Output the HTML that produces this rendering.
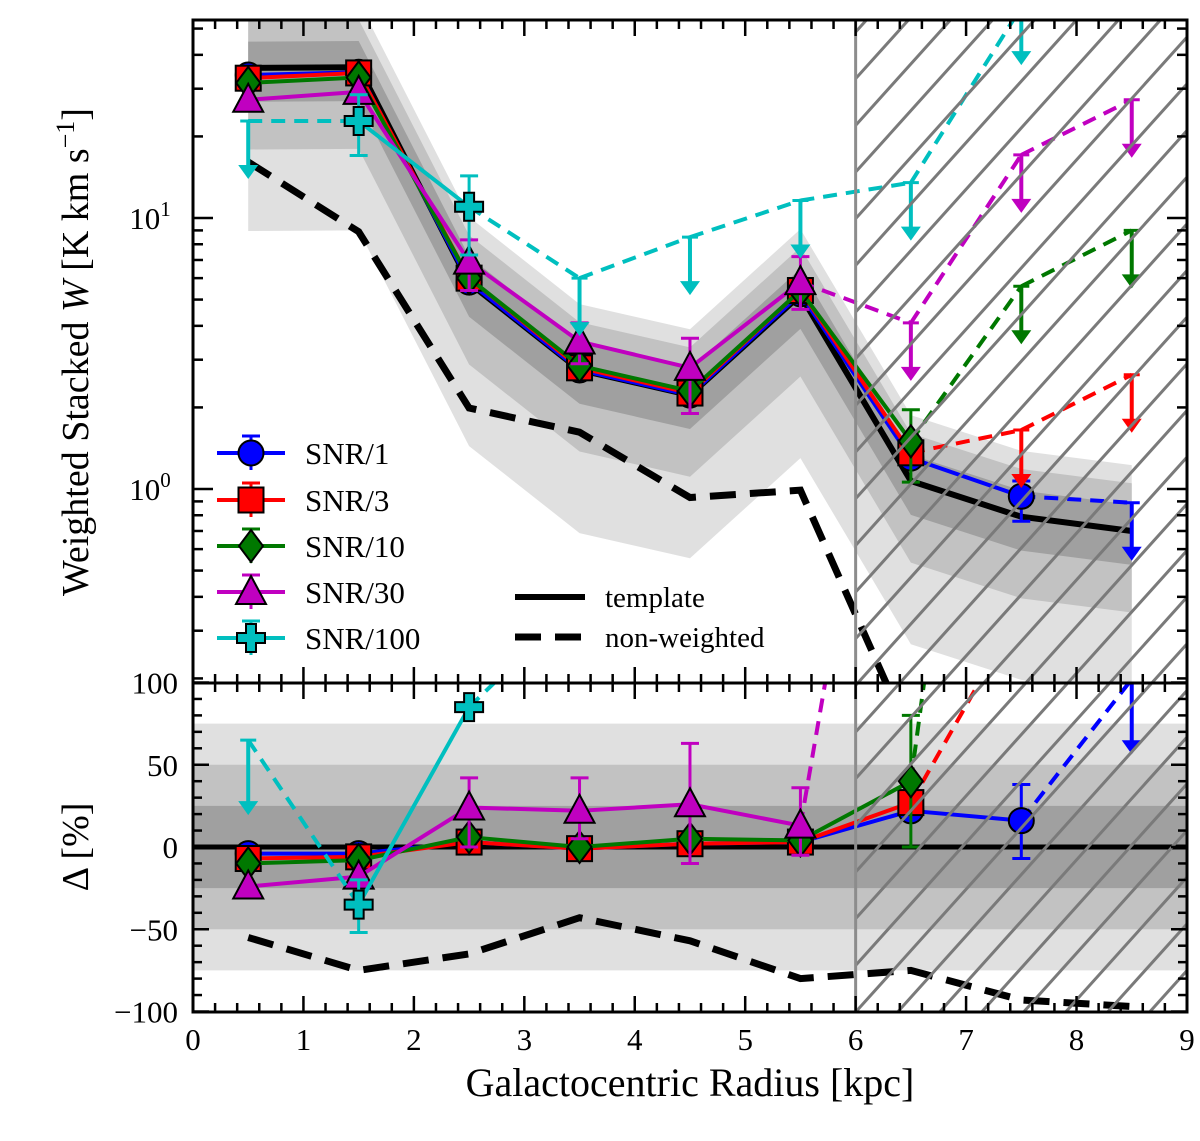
<!DOCTYPE html>
<html><head><meta charset="utf-8">
<style>
html,body{margin:0;padding:0;background:#fff;}
svg{display:block;font-family:"Liberation Serif","DejaVu Serif",serif;}
</style></head>
<body>
<svg id="chart" width="1200" height="1141" viewBox="0 0 1200 1141" xmlns="http://www.w3.org/2000/svg">
<defs>
<clipPath id="clipTop"><rect x="193" y="20" width="994" height="663"/></clipPath>
<clipPath id="clipBot"><rect x="193" y="683" width="994" height="329"/></clipPath>
<clipPath id="clipAll"><rect x="193" y="20" width="994" height="992"/></clipPath>
</defs>
<g id="layer"></g>
</svg>
<script>
// ---- data ----
const radii = [0.5,1.5,2.5,3.5,4.5,5.5,6.5,7.5,8.5];
const templateW = [35.8,36,5.76,2.75,2.22,5.2,1.07,0.79,0.70];
const nonWeightedW = [16.1,8.9,1.99,1.62,0.93,0.99,0.12,0.055,0.02];
const nonWeightedD = [-55,-75,-65,-43,-57,-80,-75,-93,-97];
const bandFrac = [0.75,0.5,0.25];
const bandColors = ['#e0e0e0','#c2c2c2','#a0a0a0'];
const xTicks = [0,1,2,3,4,5,6,7,8,9];
const dTicks = [100,50,0,-50,-100];
const dTickLabels = ['100','50','0','\u221250','\u2212100'];

const snr1W = [33.7,34.5,5.8,2.75,2.22,5.25,1.3,0.94,0.89];
const snr1WLim = [0,0,0,0,0,0,0,0,1];
const snr1D = [-4,-4,3,-1,2,3,22,16,102];
const snr1DLim = [0,0,0,0,0,0,0,0,1];
const snr3W = [32.8,34.3,6.0,2.8,2.26,5.4,1.36,1.65,2.64];
const snr3WLim = [0,0,0,0,0,0,0,1,1];
const snr3D = [-7,-6,3,-1,2,3,27,145,300];
const snr3DLim = [0,0,0,0,0,0,0,1,1];
const snr10W = [31.5,33,6.0,2.85,2.3,5.4,1.5,5.6,9.0];
const snr10WLim = [0,0,0,0,0,0,0,1,1];
const snr10D = [-10,-8,6,0,5,4,40,540,900];
const snr10DLim = [0,0,0,0,0,0,0,1,1];
const snr30W = [27.3,29.2,6.9,3.5,2.8,5.8,4.1,17.1,27.3];
const snr30WLim = [0,0,0,0,0,0,1,1,1];
const snr30D = [-24,-18,24,22,26,13,400,1500,2500];
const snr30DLim = [0,0,0,0,0,0,1,1,1];
const snr100W = [22.8,22.8,11,6.0,8.5,11.6,13.5,60];
const snr100WLim = [1,0,0,1,1,1,1,1];
const snr100D = [65,-35,85,150,400,500,800,1500];
const snr100DLim = [1,0,0,1,1,1,1,1];

const snr100WErr = [[1,17,28.5],[2,7.3,14.3]];
const snr30WErr = [[2,5.4,8.3],[3,2.9,4.1],[4,1.9,3.6],[5,4.6,7.2]];
const snr10WErr = [[6,1.06,1.96]];
const snr1WErr = [[7,0.76,1.07]];
const snr30DErr = [[2,0,42],[3,5,42],[4,-10,63],[5,-5,36]];
const snr100DErr = [[1,-52,-20]];
const snr10DErr = [[6,0,80]];
const snr1DErr = [[7,-7,38]];

// ---- axes ----
const X = k => 193 + k*110.44;
const YT = v => 218 - 271*(Math.log10(v)-1);
const YB = d => 847 - 1.645*d;
const NS = 'http://www.w3.org/2000/svg';
const layer = document.getElementById('layer');
function mk(tag, attrs, parent){
  const e = document.createElementNS(NS, tag);
  for (const k in attrs) e.setAttribute(k, attrs[k]);
  (parent||layer).appendChild(e);
  return e;
}
const gTop = mk('g',{'clip-path':'url(#clipTop)'});


const gBot = mk('g',{'clip-path':'url(#clipBot)'});



bandFrac.forEach((f,bi)=>{
  let up = radii.map((r,i)=>X(r)+','+YT(templateW[i]*(1+f)));
  let lo = radii.map((r,i)=>X(r)+','+YT(templateW[i]*(1-f))).reverse();
  const p = mk('polygon',{points:up.concat(lo).join(' '),fill:bandColors[bi]},gTop);
  
  
  const r = mk('rect',{x:193,y:YB(f*100),width:994,height:YB(-f*100)-YB(f*100),fill:bandColors[bi]},gBot);
  
  
});

// hatch region
const gH = mk('g',{'clip-path':'url(#clipAll)'});


const hs = 0.9;
for(let k=-30;k<30;k++){
  const x0 = X(6)+k*42;
  const x0c = Math.max(x0, X(6));
  const y0 = 1012 - (x0c-x0)/hs;
  mk('line',{x1:x0c,y1:y0,x2:x0+992*hs,y2:20,stroke:'#7a7a7a','stroke-width':3},gH);
}
const vl = mk('line',{x1:X(6),y1:20,x2:X(6),y2:1012,stroke:'#8c8c8c','stroke-width':3});



function pline(vals, yf, g, attrs, name){
  const pts = vals.map((v,i)=>X(radii[i])+','+yf(v)).join(' ');
  const e = mk('polyline', Object.assign({points:pts,fill:'none'},attrs), g);
  
  
}
pline(nonWeightedW, YT, gTop, {stroke:'#000','stroke-width':7,'stroke-dasharray':'26 14'}, 'non-weighted-line-top');
pline(nonWeightedD, YB, gBot, {stroke:'#000','stroke-width':7,'stroke-dasharray':'26 14'}, 'non-weighted-line-bottom');
pline(templateW, YT, gTop, {stroke:'#000','stroke-width':6}, 'template-line-top');
const zl = mk('line',{x1:193,y1:YB(0),x2:1187,y2:YB(0),stroke:'#000','stroke-width':5},gBot);



function marker(type, cx, cy, color, g){
  let e;
  if(type==='o') e = mk('circle',{cx,cy,r:12.5},g);
  else if(type==='s') e = mk('rect',{x:cx-12.5,y:cy-12.5,width:25,height:25},g);
  else if(type==='d') e = mk('polygon',{points:`${cx},${cy-16} ${cx+12},${cy} ${cx},${cy+16} ${cx-12},${cy}`},g);
  else if(type==='^') e = mk('polygon',{points:`${cx},${cy-16} ${cx+15},${cy+12} ${cx-15},${cy+12}`},g);
  else { const a=5,b=14; e = mk('polygon',{points:`${cx-a},${cy-b} ${cx+a},${cy-b} ${cx+a},${cy-a} ${cx+b},${cy-a} ${cx+b},${cy+a} ${cx+a},${cy+a} ${cx+a},${cy+b} ${cx-a},${cy+b} ${cx-a},${cy+a} ${cx-b},${cy+a} ${cx-b},${cy-a} ${cx-a},${cy-a}`},g); }
  e.setAttribute('fill',color); e.setAttribute('stroke','#000'); e.setAttribute('stroke-width',2);
  return e;
}
function arrow(x, y, len, color, g){
  mk('line',{x1:x,y1:y,x2:x,y2:y+len-10,stroke:color,'stroke-width':4},g);
  mk('line',{x1:x-8,y1:y,x2:x+8,y2:y,stroke:color,'stroke-width':3},g);
  mk('polygon',{points:`${x-10},${y+len-14} ${x+10},${y+len-14} ${x},${y+len}`,fill:color},g);
}
function series(name, vals, lims, errs, yf, g, color, mtype, alen){
  const sg = mk('g',{},g);
  
  
  for(let i=0;i<vals.length-1;i++){
    const dash = (lims[i]||lims[i+1]) ? '14 9' : 'none';
    const seg = mk('line',{x1:X(radii[i]),y1:yf(vals[i]),x2:X(radii[i+1]),y2:yf(vals[i+1]),stroke:color,'stroke-width':4,'stroke-dasharray':dash},sg);
    
    
  }
  errs.forEach(er=>{
    const x = X(radii[er[0]]);
    mk('line',{x1:x,y1:yf(er[1]),x2:x,y2:yf(er[2]),stroke:color,'stroke-width':3},sg);
    mk('line',{x1:x-9,y1:yf(er[1]),x2:x+9,y2:yf(er[1]),stroke:color,'stroke-width':3},sg);
    mk('line',{x1:x-9,y1:yf(er[2]),x2:x+9,y2:yf(er[2]),stroke:color,'stroke-width':3},sg);
  });
  vals.forEach((v,i)=>{
    if(lims[i]){
      arrow(X(radii[i]), yf(v), alen, color, sg);
    } else {
      const m = marker(mtype, X(radii[i]), yf(v), color, sg);
      
      
    }
  });
}
const defs = [
 ['snr1','#0000ff','o',snr1W,snr1WLim,snr1WErr,snr1D,snr1DLim,snr1DErr],
 ['snr3','#ff0000','s',snr3W,snr3WLim,[],snr3D,snr3DLim,[]],
 ['snr10','#007800','d',snr10W,snr10WLim,snr10WErr,snr10D,snr10DLim,snr10DErr],
 ['snr30','#c000c0','^',snr30W,snr30WLim,snr30WErr,snr30D,snr30DLim,snr30DErr],
 ['snr100','#00bfbf','+',snr100W,snr100WLim,snr100WErr,snr100D,snr100DLim,snr100DErr]
];
defs.forEach(d=>{
  series(d[0]+'-top', d[3], d[4], d[5], YT, gTop, d[1], d[2], 58);
  series(d[0]+'-bottom', d[6], d[7], d[8], YB, gBot, d[1], d[2], 75);
});

const gAx = mk('g',{});


function tick(x1,y1,x2,y2){ mk('line',{x1,y1,x2,y2,stroke:'#000','stroke-width':2.5},gAx); }
[[20,683],[683,1012]].forEach(([t,b])=>{
  for(let k=0;k<=45;k++){
    const x = X(k*0.2), L = (k%5===0)?16:9;
    tick(x,b,x,b-L); tick(x,t,x,t+L);
  }
});
for(let e=-1;e<=1;e++){
  for(let m=1;m<=9;m++){
    const v = m*Math.pow(10,e); const y = YT(v);
    if(y<20||y>683) continue;
    const L = m===1?20:10;
    tick(193,y,193+L,y); tick(1187,y,1187-L,y);
  }
}
for(let d=-100;d<=100;d+=10){
  const y=YB(d), L = d%50===0?16:9;
  tick(193,y,193+L,y); tick(1187,y,1187-L,y);
}
mk('rect',{x:193,y:20,width:994,height:992,fill:'none',stroke:'#000','stroke-width':3},gAx);
mk('line',{x1:193,y1:683,x2:1187,y2:683,stroke:'#000','stroke-width':3},gAx);

function txt(s, x, y, size, anchor, name, extra){
  const t = mk('text', Object.assign({x,y,'font-size':size,'text-anchor':anchor||'middle',fill:'#000'},extra||{}));
  t.textContent = s;
  
  
  return t;
}
xTicks.forEach(k=>txt(String(k), X(k), 1050, 31, 'middle', 'x-tick-label'));
dTicks.forEach((d,i)=>txt(dTickLabels[i], 178, YB(d)+11, 31, 'end', 'delta-tick-label'));
const t1 = txt('10', 150, 229, 31, 'middle', 'y-tick-label-10');
const s1 = mk('tspan',{dy:-13,'font-size':21},t1); s1.textContent='1';
const t0 = txt('10', 150, 500, 31, 'middle', 'y-tick-label-1');
const s0 = mk('tspan',{dy:-13,'font-size':21},t0); s0.textContent='0';
txt('Galactocentric Radius [kpc]', 690, 1096, 40, 'middle', 'x-axis-title');
const yt = txt('Weighted Stacked ', 0, 0, 38, 'middle', 'y-axis-title', {transform:'translate(88,352) rotate(-90)'});
const w = mk('tspan',{'font-style':'italic'},yt); w.textContent='W';
const u = mk('tspan',{},yt); u.textContent=' [K km s';
const u2 = mk('tspan',{dy:-14,'font-size':26},yt); u2.textContent='\u22121';
const u3 = mk('tspan',{dy:14},yt); u3.textContent=']';
txt('\u0394 [%]', 0, 0, 38, 'middle', 'delta-axis-title', {transform:'translate(88,847) rotate(-90)'});

const legLabels = ['SNR/1','SNR/3','SNR/10','SNR/30','SNR/100'];
const legY = [453,500,546,592,638];
defs.forEach((d,i)=>{
  const g = mk('g',{});
  
  
  mk('line',{x1:217,y1:legY[i],x2:285,y2:legY[i],stroke:d[1],'stroke-width':4},g);
  mk('line',{x1:251,y1:legY[i]-17,x2:251,y2:legY[i]+17,stroke:d[1],'stroke-width':3},g);
  mk('line',{x1:242,y1:legY[i]-17,x2:260,y2:legY[i]-17,stroke:d[1],'stroke-width':3},g);
  marker(d[2],251,legY[i],d[1],g);
  const t = mk('text',{x:305,y:legY[i]+11,'font-size':31,fill:'#000'},g); t.textContent=legLabels[i];
});
const lg1 = mk('g',{});


mk('line',{x1:515,y1:597,x2:585,y2:597,stroke:'#000','stroke-width':6},lg1);
const lt1 = mk('text',{x:605,y:607,'font-size':29,fill:'#000'},lg1); lt1.textContent='template';
const lg2 = mk('g',{});


mk('line',{x1:515,y1:637,x2:585,y2:637,stroke:'#000','stroke-width':7,'stroke-dasharray':'26 14'},lg2);
const lt2 = mk('text',{x:605,y:647,'font-size':29,fill:'#000'},lg2); lt2.textContent='non-weighted';
</script>
</body></html>
